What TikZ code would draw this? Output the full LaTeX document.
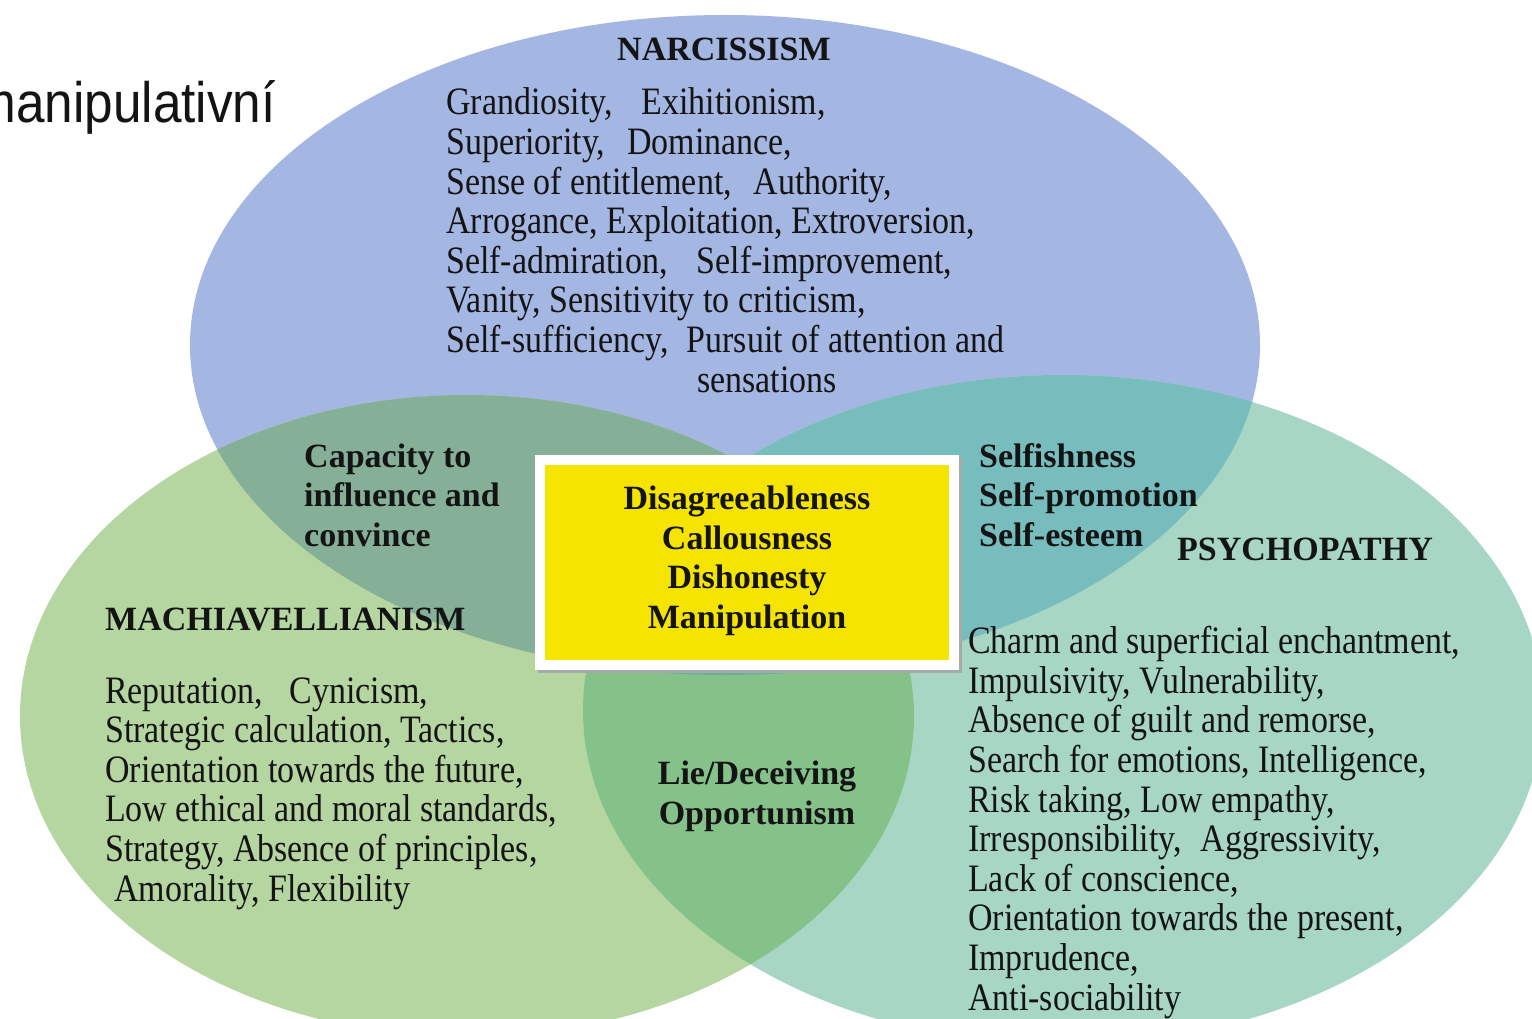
\documentclass[tikz,border=0pt]{standalone}
\usepackage{fontspec}
\setmainfont{Liberation Serif}
\newfontfamily\bodyfont{Liberation Serif}[FakeStretch=0.875]
\newfontfamily\czfont{Liberation Sans}[FakeStretch=0.9]
\definecolor{blueN}{RGB}{164,182,226}
\definecolor{greenM}{RGB}{181,213,161}
\definecolor{tealP}{RGB}{167,214,197}
\definecolor{BG}{RGB}{133,176,151}
\definecolor{BT}{RGB}{120,189,190}
\definecolor{GT}{RGB}{133,194,138}
\definecolor{BGT}{RGB}{112,170,160}
\definecolor{coreY}{RGB}{245,228,0}
\definecolor{shadowc}{RGB}{165,172,168}
\definecolor{ink}{RGB}{20,20,20}
\begin{document}
\begin{tikzpicture}[x=1pt,y=-1pt,
  body/.style={anchor=base west, inner sep=0pt, align=left, text=ink,
    font=\bodyfont\fontsize{38.8}{39.6}\selectfont},
  bold/.style={anchor=base west, inner sep=0pt, align=left, text=ink,
    font=\fontsize{34}{39.4}\selectfont\bfseries},
  corebox/.style={draw=white, line width=10pt, fill=coreY, minimum width=414pt,
    minimum height=205pt, inner sep=0pt}
]
\useasboundingbox (0,0) rectangle (1532,1019);
\fill[white] (0,0) rectangle (1532,1019);
% circles
\fill[blueN] (725,345) ellipse [x radius=535pt, y radius=330pt];
\fill[greenM] (467,716) ellipse [x radius=447pt, y radius=321pt];
\fill[tealP] (1063,710) ellipse [x radius=480pt, y radius=335pt];
\begin{scope}
  \clip (467,716) ellipse [x radius=447pt, y radius=321pt];
  \fill[GT] (1063,710) ellipse [x radius=480pt, y radius=335pt];
\end{scope}
\begin{scope}
  \clip (725,345) ellipse [x radius=535pt, y radius=330pt];
  \fill[BG] (467,716) ellipse [x radius=447pt, y radius=321pt];
  \fill[BT] (1063,710) ellipse [x radius=480pt, y radius=335pt];
  \clip (467,716) ellipse [x radius=447pt, y radius=321pt];
  \fill[BGT] (1063,710) ellipse [x radius=480pt, y radius=335pt];
\end{scope}
% top-left word
\node[anchor=base east, inner sep=0pt, text=ink, font=\czfont\fontsize{57}{60}\selectfont] (cz) at (276,123) {manipulativní};
% narcissism (base anchor = baseline of the last line)
\node[bold] (ntitle) at (617,61) {NARCISSISM};
\node[body] (nlist) at (446,392) {Grandiosity,\hspace{29pt}Exihitionism,\\
Superiority,\hspace{22pt}Dominance,\\
Sense of entitlement,\hspace{22pt}Authority,\\
Arrogance, Exploitation, Extroversion,\\
Self-admiration,\hspace{29pt}Self-improvement,\\
Vanity, Sensitivity to criticism,\\
Self-sufficiency,\hspace{18pt}Pursuit of attention and\\
\hspace*{251pt}sensations};
% overlaps
\node[bold] (cap) at (304,546) {Capacity to\\influence and\\convince};
\node[bold] (self) at (979,546) {Selfishness\\Self-promotion\\Self-esteem};
\node[bold, anchor=base, align=center] (lie) at (757,824) {Lie/Deceiving\\Opportunism};
% psychopathy
\node[bold] (ptitle) at (1177,560) {PSYCHOPATHY};
\node[body] (plist) at (968,1010) {Charm and superficial enchantment,\\
Impulsivity, Vulnerability,\\
Absence of guilt and remorse,\\
Search for emotions, Intelligence,\\
Risk taking, Low empathy,\\
Irresponsibility,\hspace{19pt}Aggressivity,\\
Lack of conscience,\\
Orientation towards the present,\\
Imprudence,\\
Anti-sociability};
% machiavellianism
\node[bold] (mtitle) at (105,630) {MACHIAVELLIANISM};
\node[body] (mlist) at (105,901) {Reputation,\hspace{27pt}Cynicism,\\
Strategic calculation, Tactics,\\
Orientation towards the future,\\
Low ethical and moral standards,\\
Strategy, Absence of principles,\\
\hspace*{9pt}Amorality, Flexibility};
% core box
\fill[shadowc] (538,458) rectangle (962,673);
\node[corebox] (core) at (747,562.5) {};
\node[bold, anchor=base, align=center] (coretext) at (747,628) {Disagreeableness\\Callousness\\Dishonesty\\Manipulation};
\end{tikzpicture}
\end{document}
